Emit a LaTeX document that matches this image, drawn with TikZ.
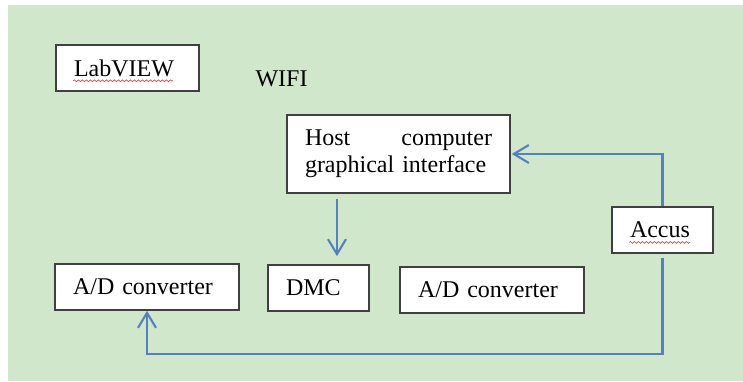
\documentclass[tikz,border=0pt]{standalone}
\usepackage{fontspec}
\setmainfont{Liberation Serif}
\usepackage{tikz}
\usetikzlibrary{arrows.meta,calc,decorations.pathmorphing}
\usepackage{xcolor}
\definecolor{panelgreen}{RGB}{208,231,204}
\definecolor{linkblue}{RGB}{84,130,192}
\definecolor{boxgray}{RGB}{64,64,64}
\definecolor{spellred}{RGB}{232,70,70}

\begin{document}
\begin{tikzpicture}[x=0.5pt, y=-0.5pt,
        font=\fontsize{12}{13.5}\selectfont,
        block/.style={draw=boxgray, line width=0.8pt, fill=white, inner xsep=9pt, inner ysep=2pt, align=left, minimum height=23pt},
        link/.style={draw=linkblue, line width=1.05pt, -{Straight Barb[length=7.5pt,width=9pt]}},
        squiggle/.style={draw=spellred, line width=0.35pt, decorate, decoration={snake, amplitude=0.45pt, segment length=2pt}}]

    % page area
    \useasboundingbox (0,0) rectangle (743,381);
    \fill[panelgreen] (8,5) rectangle (743,381);

    \node[block, text width=53.5pt] (labview) at (127.5,68) {LabVIEW};
    \node (wifi) at (281.5,79) {WIFI};
    \node[block, text width=93.5pt, minimum height=39pt] (host) at (398.5,154) {Host\hfill computer\\graphical interface};
    \node[block, text width=32.5pt] (accus) at (662.5,230) {Accus};
    \node[block, text width=74pt] (adleft) at (147,287) {A/D converter};
    \node[block, text width=32.5pt] (dmc) at (318.5,288) {DMC};
    \node[block, text width=74pt] (adright) at (492,290) {A/D converter};

    % spell-check marks
    \draw[squiggle] ([shift={(9pt,-2.3pt)}]labview.base west) -- ++(50pt,0);
    \draw[squiggle] ([shift={(9pt,-2.3pt)}]accus.base west) -- ++(30.5pt,0);

    % links
    \coordinate (drop) at ([xshift=-30.75pt]host.south);
    \draw[link, shorten <=2.5pt, shorten >=4pt] (drop) -- (drop |- dmc.north);
    \draw[link, shorten >=0.5pt] (accus.north) |- (host.east);
    \draw[link, shorten <=2pt] (accus.south) -- ++(0,-50pt) -| (adleft.south);
\end{tikzpicture}
\end{document}
